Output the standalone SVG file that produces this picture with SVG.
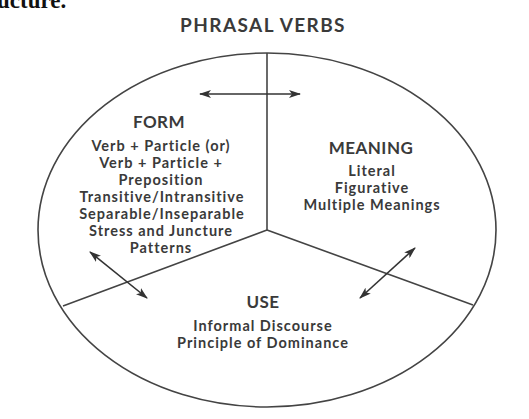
<svg xmlns="http://www.w3.org/2000/svg" width="529" height="419" viewBox="0 0 529 419">
  <defs>
    <marker id="ah" viewBox="0 0 12 8" refX="11" refY="4" markerWidth="12" markerHeight="8" markerUnits="userSpaceOnUse" orient="auto-start-reverse">
      <path d="M0,0 L12,4 L0,8 L3,4 Z" fill="#333"/>
    </marker>
  </defs>
  <style>
    .t { font-family: Lato, "Open Sans", sans-serif; font-weight: bold; fill: #3a3a3a; text-anchor: middle; }
    .h { font-size: 17px; letter-spacing: 0.5px; }
    .i { font-size: 14.5px; letter-spacing: 1px; }
    .ln { stroke: #444; stroke-width: 1.6; fill: none; }
    .ar { stroke: #333; stroke-width: 1.6; fill: none; marker-start: url(#ah); marker-end: url(#ah); }
  </style>
  <rect width="529" height="419" fill="#ffffff"/>
  <text x="-3" y="8" font-family="'Liberation Serif', serif" font-weight="bold" font-size="23" fill="#111">ucture.</text>
  <text class="t" x="263" y="32" font-size="19" letter-spacing="1.4">PHRASAL VERBS</text>

  <g id="circle">
    <ellipse class="ln" cx="267" cy="230" rx="229" ry="177"/>
  </g>
  <g id="dividers">
    <line class="ln" x1="267" y1="53" x2="267" y2="230"/>
    <line class="ln" x1="267" y1="230" x2="63" y2="306"/>
    <line class="ln" x1="267" y1="230" x2="473" y2="305"/>
  </g>

  <g id="form">
    <text class="t h" x="159" y="128">FORM</text>
    <text class="t i" x="161" y="151">Verb + Particle (or)</text>
    <text class="t i" x="161" y="168">Verb + Particle +</text>
    <text class="t i" x="161" y="185">Preposition</text>
    <text class="t i" x="162" y="202">Transitive/Intransitive</text>
    <text class="t i" x="162" y="219">Separable/Inseparable</text>
    <text class="t i" x="161" y="236">Stress and Juncture</text>
    <text class="t i" x="161" y="253">Patterns</text>
  </g>

  <g id="meaning">
    <text class="t h" x="371" y="154">MEANING</text>
    <text class="t i" x="372" y="176">Literal</text>
    <text class="t i" x="372" y="193">Figurative</text>
    <text class="t i" x="372" y="210">Multiple Meanings</text>
  </g>

  <g id="use">
    <text class="t h" x="263" y="308">USE</text>
    <text class="t i" x="263" y="331">Informal Discourse</text>
    <text class="t i" x="263" y="348">Principle of Dominance</text>
  </g>

  <g id="connectors">
    <line class="ar" x1="200" y1="94" x2="300" y2="94"/>
    <line class="ar" x1="90" y1="252" x2="147" y2="298"/>
    <line class="ar" x1="415" y1="248" x2="360" y2="298"/>
  </g>
</svg>
